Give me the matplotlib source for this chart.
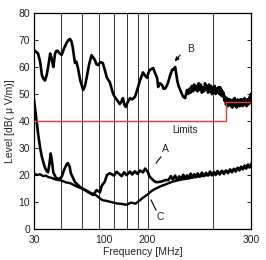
import numpy as np
import matplotlib
matplotlib.use('Agg')
import matplotlib.pyplot as plt

plt.rcParams['font.family'] = ['Liberation Sans', 'DejaVu Sans']

# curve B (upper emission)
b_freq = [30, 31.3, 32.0, 32.6, 33.2, 33.7, 34.3, 35.0, 35.6, 36.2, 36.8, 37.5, 38.0, 38.6, 39.4,
          40.2, 41.3, 42.4, 43.2, 43.9, 44.6, 45.2, 46.3, 47.0, 47.8, 49.0, 50.5, 51.5, 52.4, 53.8,
          55.2, 56.2, 57.2, 58.2, 59.3, 60.4, 62.2, 63.5, 65.0, 67.0, 69.2, 70.5, 72.3, 74.5, 75.5,
          77.0, 78.2, 79.4, 81.0, 83.0, 85.0, 87.6, 90.0, 92.3, 95.3, 97.0, 99.6, 101.0, 102.8, 106.1,
          108.0, 110.7, 111.9, 114.0, 116.8, 118.5, 120.6, 122.5, 124.5, 127.2, 129.9, 131.3, 134.1,
          137.0, 139.0, 141.5, 144.0, 146.0, 148.9,
          150, 152, 154, 156, 158, 160, 162, 164, 166, 168, 170, 172, 174, 176, 178, 180, 182, 184,
          186, 188, 190, 192, 194, 196, 198, 200, 202, 204, 206, 208, 210, 212, 214, 216, 218, 220,
          222, 224, 226, 228, 230, 232, 234, 236, 238, 240, 242, 244, 246, 248, 250, 252, 254, 256,
          258, 260, 262, 264, 266, 268, 270, 272, 274, 276, 278, 280, 282, 284, 286, 288, 290, 292,
          294, 296, 298, 300]
b_level = [66.3, 65, 62, 57, 55.5, 55, 57, 61, 65, 63, 60, 65, 66, 66, 65,
           64.5, 67, 69, 70, 70.4, 69.5, 67.4, 61.5, 62, 59.6, 55, 51.5, 53, 56, 61,
           64.4, 63.5, 62.6, 61, 60.7, 61.8, 61.5, 59, 56, 54.4, 50.4, 49, 47.8, 46.3, 47,
           48.5, 46, 45.2, 47, 48.5, 48, 49, 52, 55, 58, 57, 56, 58, 59, 59.6,
           58, 56, 52.6, 54, 53.3, 52, 52, 53, 54.4, 57, 59, 59, 60,
           55, 53, 51.5, 50, 49, 48.5,
           49.5, 51.5, 50, 52, 50.5, 53, 51, 53.5, 51.5, 53, 51, 54, 51.5, 53.5, 50.5, 52.5, 51, 54,
           51.5, 53, 50.5, 53.5, 51, 53, 50, 52.5, 50.5, 53, 50, 52, 50.5, 52.5, 50, 52.5, 49.5, 51.5,
           49, 50.5, 47.5, 49, 46, 48.5, 45.5, 48, 46, 48, 45.5, 47.5, 45, 48, 46, 48.5, 45.5, 47.5,
           45, 48, 46, 47.5, 45.5, 48, 46, 48, 45.5, 47.5, 46, 48.5, 46, 47.5, 45.5, 48, 46, 48,
           46.5, 49, 47, 50]

# curve A
a_freq = [30, 30.5, 31.3, 32.0, 32.6, 33.7, 34.3, 34.8, 35.3, 35.8, 36.3, 36.8, 37.8, 39.0, 40.2,
          41.3, 42.4, 43.0, 43.8, 44.3, 46.3, 48.8, 51.5, 54.3, 56.2, 58.2, 60.4, 61.5, 63.5, 65.0,
          67.0, 70, 72, 74.5, 76, 78, 80, 83, 85, 87.5, 90, 92, 95.3, 97.5, 99, 100.5, 102, 106.1,
          109, 112, 116, 120.6, 125, 128, 131, 134, 137, 140, 143, 146, 149, 152, 155, 158, 161,
          164, 167, 170, 174, 178, 182, 186, 190, 194, 198, 202, 206, 210, 215, 220, 225, 230, 235,
          240, 245, 250, 255, 260, 265, 270, 275, 280, 285, 290, 295, 300]
a_level = [47.8, 43, 35.5, 30, 26.7, 22.6, 21.5, 21, 24, 28, 25, 21, 19, 18.5, 19.3,
           22, 24, 24.4, 23, 20.7, 17.4, 15.6, 14.4, 13.3, 12.6, 14.4, 13.7, 16, 17.5, 20,
           20.7, 19.8, 21.2, 20.2, 19.6, 21.0, 20.0, 21.3, 20.2, 21.4, 20.4, 21.7, 21.0, 22.4, 21.7, 21, 19.5, 18.1,
           17.4, 17.4, 17.6, 18.1, 18.2, 19.6, 18.3, 19.8, 18.2, 19.5, 18.5, 20.1, 18.7, 19.9, 18.8, 20.5, 19.0,
           20.3, 19.2, 20.6, 19.4, 20.9, 19.6, 20.8, 19.8, 21.3, 19.9, 21.1, 20.0, 21.5, 20.2, 21.6, 20.4, 21.7, 20.7,
           22.1, 21.0, 22.3, 21.3, 22.7, 21.7, 23.1, 22.1, 23.5, 22.4, 23.9, 22.8, 24.0]

# curve C
c_freq = [30, 31, 32, 33, 34, 35, 36, 37, 38, 40, 42, 44, 46, 48, 50, 52, 55, 58, 60, 62, 65, 68,
          72, 76, 80, 84, 88, 92, 96, 100, 104, 108, 112, 116, 120, 125, 130, 137, 145, 155, 165,
          180, 195, 210, 225, 240, 255, 270, 285, 300]
c_level = [20.5, 20, 20.3, 19.6, 19.8, 19.2, 19, 18.6, 18.3, 18, 17.3, 17, 16.2, 15.5, 15, 14.4,
           13.3, 12.5, 11.5, 10.7, 10.4, 10, 9.5, 9.3, 9, 9.8, 9.4, 10.6, 11.8, 12.8, 14, 14.8, 15.4,
           16, 16.4, 17, 17.5, 18, 18.4, 18.8, 19.3, 19.7, 20.3, 20.6, 21.2, 21.6, 22.1, 22.6, 23, 23.3]

# limit line (40 / 47 dB, step at 230 MHz)
lim_freq = [30, 230, 230, 300]
lim_level = [40, 40, 47, 47]

grid_freq = [40, 50, 60, 70, 80, 90, 100, 200]
xtick_pos = [30, 63, 100, 300]
xtick_labels = ['30', '100', '200', '300']
ytick_pos = [0, 10, 20, 30, 40, 50, 60, 70, 80]

fig = plt.figure(figsize=(2.66, 2.60), dpi=100)
ax = fig.add_axes([0.128, 0.119, 0.816, 0.831])
ax.set_xscale('log')

for g in grid_freq:
    ax.axvline(g, color='#333333', linewidth=0.7, zorder=1)

ax.plot(b_freq, b_level, color='black', linewidth=1.9, zorder=3)
ax.plot(c_freq, c_level, color='black', linewidth=1.7, zorder=3)
ax.plot(a_freq, a_level, color='black', linewidth=1.9, zorder=3)
ax.plot(lim_freq, lim_level, color='#e63a36', linewidth=1.0, zorder=4)

ax.set_xlim(30, 300)
ax.set_ylim(0, 80)
ax.set_xticks(xtick_pos)
ax.set_xticklabels(xtick_labels)
ax.xaxis.set_minor_locator(matplotlib.ticker.NullLocator())
ax.set_yticks(ytick_pos)
ax.tick_params(axis='x', length=0, labelsize=7.5, pad=4, colors='#222222')
ax.tick_params(axis='y', direction='in', length=3, width=0.7, right=True, labelsize=7.5,
               pad=3, colors='#222222')

for s in ax.spines.values():
    s.set_linewidth(0.9)

ax.set_xlabel('Frequency [MHz]', fontsize=7.5, labelpad=2, color='#222222')
ax.set_ylabel('Level [dB( \u03bc V/m)]', fontsize=7.5, labelpad=2, color='#222222')

# labels on the curves
ax.text(148.9, 36.7, 'Limits', fontsize=7, ha='center', va='center', color='#222222')
ax.text(158, 66.7, 'B', fontsize=7.5, ha='center', va='center', color='#222222')
ax.annotate('', xy=(131, 61.3), xytext=(144, 65.2),
            arrowprops=dict(arrowstyle='-|>', color='black', lw=0.8, mutation_scale=6))
ax.text(121.4, 29.6, 'A', fontsize=7.5, ha='center', va='center', color='#222222')
ax.plot([115.2, 109.4], [26.7, 24.4], color='black', linewidth=0.8)
ax.text(114.0, 4.4, 'C', fontsize=7.5, ha='center', va='center', color='#222222')
ax.plot([103.9, 109.4], [10.7, 7.0], color='black', linewidth=0.8)

plt.savefig('out.png', dpi=100)
